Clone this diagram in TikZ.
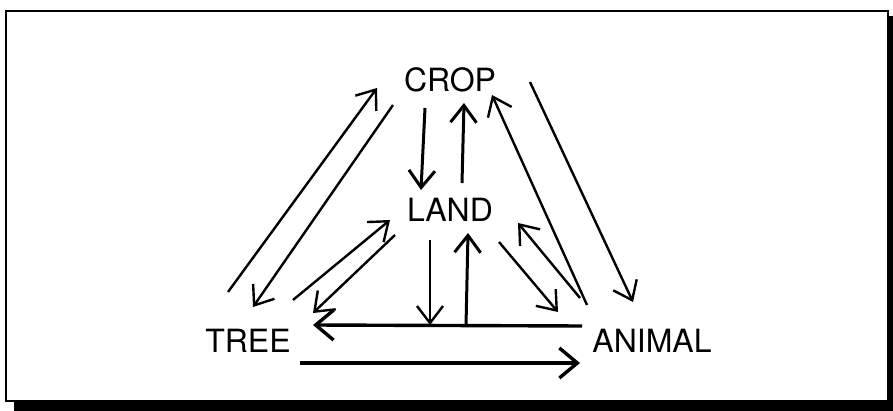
\documentclass[tikz,border=0pt]{standalone}
\usepackage{fontspec}
\setmainfont{TeX Gyre Heros}
\usetikzlibrary{arrows.meta}
\begin{document}
\begin{tikzpicture}[x=1pt,y=-1pt,
  lbl/.style={font=\fontsize{32}{38}\selectfont, inner sep=0pt},
  arr/.style={line width=2.4pt, -{Straight Barb[length=17pt,width=26pt]}},
  varr/.style={line width=3pt, -{Straight Barb[length=17pt,width=26pt]}},
  harr/.style={line width=3.4pt, -{Straight Barb[length=18pt,width=30pt]}}]
\useasboundingbox (0,0) rectangle (893,411);
\fill[white] (0,0) rectangle (893,411);
% frame with shadow
\draw[line width=2.8pt] (6,11) rectangle (888,401);
\fill (14,400) rectangle (893,411);
\fill (887,16) rectangle (893,411);
% labels
\node[lbl] (crop) at (450,80) {CROP};
\node[lbl] (land) at (450,210) {LAND};
\node[lbl] (tree) at (248,341) {TREE};
\node[lbl] (animal) at (652,341) {ANIMAL};
% end points
\coordinate (tcS) at (228,292); \coordinate (tcE) at (377,88);
\coordinate (ctS) at (393,105); \coordinate (ctE) at (253,307);
\coordinate (clS) at (425,108); \coordinate (clE) at (421,190);
\coordinate (lcS) at (462,183); \coordinate (lcE) at (464,103);
\coordinate (acS) at (587,305); \coordinate (acE) at (492,95);
\coordinate (caS) at (530,82);  \coordinate (caE) at (633,302);
\coordinate (tlS) at (293,300); \coordinate (tlE) at (390,220);
\coordinate (ltS) at (395,235); \coordinate (ltE) at (313,313);
\coordinate (lbS) at (430,240); \coordinate (lbE) at (430,325);
\coordinate (blS) at (466,326); \coordinate (blE) at (468,233);
\coordinate (laS) at (499,242); \coordinate (laE) at (558,312);
\coordinate (alS) at (580,298); \coordinate (alE) at (518,223);
\coordinate (atS) at (582,326); \coordinate (atE) at (313,325);
\coordinate (taS) at (300,363); \coordinate (taE) at (580,363);
% connectors
\draw[arr] (tcS) -- (tcE);
\draw[arr] (ctS) -- (ctE);
\draw[varr] (clS) -- (clE);
\draw[varr] (lcS) -- (lcE);
\draw[arr] (acS) -- (acE);
\draw[arr] (caS) -- (caE);
\draw[arr] (tlS) -- (tlE);
\draw[arr] (ltS) -- (ltE);
\draw[arr] (lbS) -- (lbE);
\draw[varr] (blS) -- (blE);
\draw[arr] (laS) -- (laE);
\draw[arr] (alS) -- (alE);
\draw[harr] (atS) -- (atE);
\draw[harr] (taS) -- (taE);
\end{tikzpicture}
\end{document}
